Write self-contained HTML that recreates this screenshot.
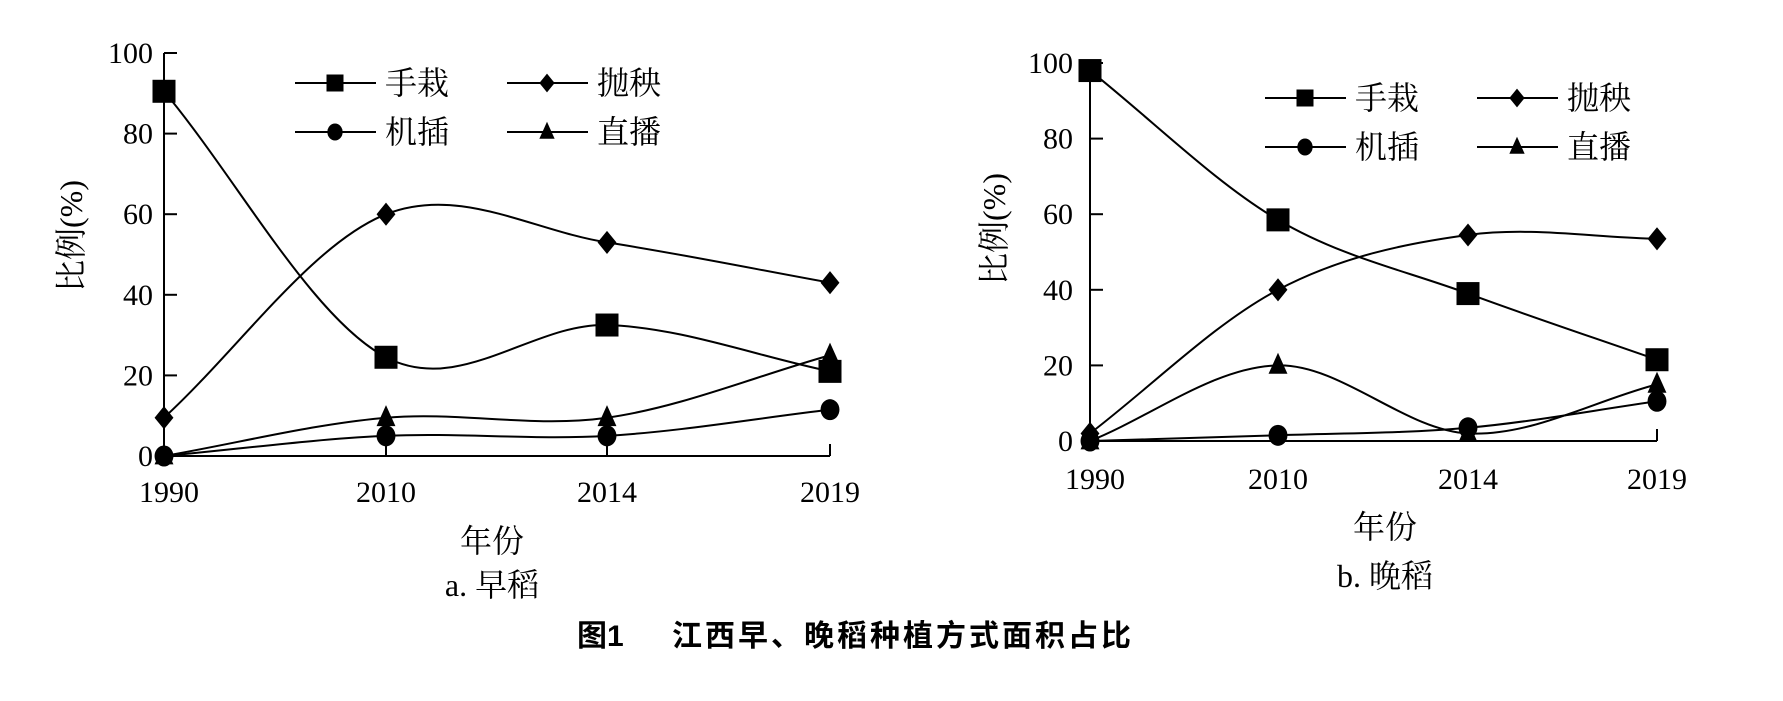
<!DOCTYPE html>
<html><head><meta charset="utf-8">
<style>
html,body{margin:0;padding:0;background:#fff;}
svg{display:block;}
.n{font-family:"Liberation Serif","Noto Serif CJK SC",serif;font-size:30px;fill:#000;}
.c{font-family:"Liberation Serif","Noto Serif CJK SC",serif;font-size:32px;fill:#000;}
.t{font-family:"Liberation Sans","Noto Sans CJK SC",sans-serif;font-size:30px;font-weight:bold;fill:#000;}
</style></head>
<body>
<svg id="s" width="1783" height="701" viewBox="0 0 1783 701" xmlns="http://www.w3.org/2000/svg">
<rect width="1783" height="701" fill="#fff"/>
<g id="g"></g>
<text class="t" x="577" y="646">图1</text>
<text class="t" x="672" y="646" letter-spacing="3">江西早、晚稻种植方式面积占比</text>
</svg>
<script>
var NS="http://www.w3.org/2000/svg",G=document.getElementById('g');
function el(n,a,txt){var e=document.createElementNS(NS,n);for(var k in a)e.setAttribute(k,a[k]);if(txt!=null)e.textContent=txt;G.appendChild(e);return e;}
function marker(t,x,y,s){
 if(t==0)el('rect',{x:x-s/2,y:y-s/2,width:s,height:s,fill:'#000'});
 else if(t==1)el('polygon',{points:(x)+','+(y-s*0.55)+' '+(x+s*0.45)+','+y+' '+x+','+(y+s*0.55)+' '+(x-s*0.45)+','+y,fill:'#000'});
 else if(t==2)el('ellipse',{cx:x,cy:y,rx:s*0.45,ry:s*0.5,fill:'#000'});
 else el('polygon',{points:x+','+(y-s*0.6)+' '+(x+s*0.45)+','+(y+s*0.4)+' '+(x-s*0.45)+','+(y+s*0.4),fill:'#000'});
}
function curve(P){
 var d='M'+P[0][0]+','+P[0][1];
 for(var i=0;i<P.length-1;i++){
  var p0=P[i-1]||P[i],p1=P[i],p2=P[i+1],p3=P[i+2]||P[i+1];
  var f=(i==0)?1/3:1/6,g=(i==P.length-2)?1/3:1/6;
  var c1=[p1[0]+(p2[0]-p0[0])*f,p1[1]+(p2[1]-p0[1])*f];
  var c2=[p2[0]-(p3[0]-p1[0])*g,p2[1]-(p3[1]-p1[1])*g];
  d+=' C'+c1[0]+','+c1[1]+' '+c2[0]+','+c2[1]+' '+p2[0]+','+p2[1];
 }
 el('path',{d:d,fill:'none',stroke:'#000','stroke-width':2});
}
function chart(o){
 var X=o.xs,Y=function(v){return o.y0-(o.y0-o.y100)*v/100;};
 el('line',{x1:X[0],y1:o.y100,x2:X[0],y2:o.y0,stroke:'#000','stroke-width':2});
 el('line',{x1:X[0],y1:o.y0,x2:X[3],y2:o.y0,stroke:'#000','stroke-width':2});
 for(var v=0;v<=100;v+=20){
  el('line',{x1:X[0],y1:Y(v),x2:X[0]+13,y2:Y(v),stroke:'#000','stroke-width':2});
  el('text',{x:o.lx,y:Y(v)+10,'text-anchor':'end','class':'n'},String(v));
 }
 var yr=['1990','2010','2014','2019'];
 for(var i=0;i<4;i++){
  if(i>0)el('line',{x1:X[i],y1:o.y0,x2:X[i],y2:o.y0-12,stroke:'#000','stroke-width':2});
  el('text',{x:X[i]+(i==0?5:0),y:o.xl,'text-anchor':'middle','class':'n'},yr[i]);
 }
 for(var s=0;s<4;s++){
  var P=o.d[s].map(function(v,i){return [X[i],Y(v)];});
  curve(P);
 }
 for(var s=0;s<4;s++)for(var i=0;i<4;i++)marker(s,X[i],Y(o.d[s][i]),s==0?23:21);
 var names=['手栽','抛秧','机插','直播'];
 for(var s=0;s<4;s++){
  var col=s%2,row=Math.floor(s/2),lx=o.leg[col],ly=o.legy[row];
  el('line',{x1:lx,y1:ly,x2:lx+81,y2:ly,stroke:'#000','stroke-width':2});
  marker(s,lx+40,ly,17);
  el('text',{x:lx+90,y:ly+11,'class':'c'},names[s]);
 }
 var t=el('text',{x:0,y:0,'class':'c','text-anchor':'middle',transform:'translate('+(o.yl[0]+11)+','+o.yl[1]+') rotate(-90)'},'比例(%)');
 el('text',{x:o.cx,y:o.xt,'text-anchor':'middle','class':'c'},'年份');
 el('text',{x:o.cx,y:o.sub,'text-anchor':'middle','class':'c'},o.subt);
}
chart({xs:[164,386,607,830],y100:53,y0:456,lx:153,xl:502,
 d:[[90.5,24.5,32.5,21],[9.5,60,53,43],[0,5,5,11.5],[0,9.5,9.5,25]],
 leg:[295,507],legy:[83,132],yl:[71,236],cx:492,xt:552,sub:596,subt:'a. 早稻'});
chart({xs:[1090,1278,1468,1657],y100:63,y0:441,lx:1073,xl:489,
 d:[[98,58.5,39,21.5],[2,40,54.5,53.5],[0,1.5,3.5,10.5],[0,20,2,15]],
 leg:[1265,1477],legy:[98,147],yl:[994,229],cx:1385,xt:538,sub:587,subt:'b. 晚稻'});
</script>
</body></html>
